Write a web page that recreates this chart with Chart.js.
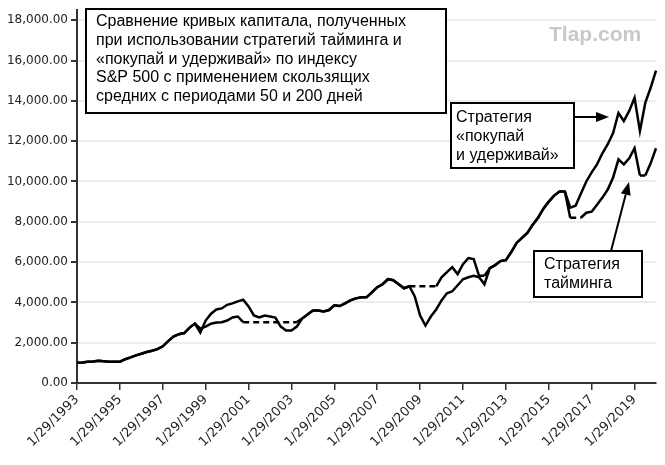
<!DOCTYPE html>
<html>
<head>
<meta charset="utf-8">
<script src="https://cdn.jsdelivr.net/npm/chart.js@4.4.1/dist/chart.umd.min.js"></script>
<style>
  body { margin: 0; background: #fff; }
  #wrap { width: 665px; height: 465px; }
</style>
</head>
<body>
<div id="wrap"><canvas id="equityChart"></canvas></div>
<script>
// quarterly dates, 1/29/1993 .. 1/29/2020
const categories = [];
for (let y = 1993; y <= 2020; y++) {
    for (const m of [1, 4, 7, 10]) {
        if (categories.length < 109) categories.push(m + '/29/' + y);
    }
}

const tickLabels = ['1/29/1993', '1/29/1995', '1/29/1997', '1/29/1999', '1/29/2001', '1/29/2003', '1/29/2005',
    '1/29/2007', '1/29/2009', '1/29/2011', '1/29/2013', '1/29/2015', '1/29/2017', '1/29/2019'];

const yTicks = [0, 2000, 4000, 6000, 8000, 10000, 12000, 14000, 16000, 18000];

// "покупай и удерживай"
const buyHold = [
    1000, 1020, 1050, 1070, 1100, 1080, 1060, 1050,
    1060, 1180, 1270, 1370, 1450, 1540, 1600, 1680,
    1820, 2080, 2300, 2420, 2480, 2750, 2950, 2500,
    3100, 3440, 3650, 3700, 3880, 3950, 4050, 4130,
    3800, 3350, 3250, 3350, 3300, 3250, 2800, 2600,
    2600, 2800, 3200, 3400, 3600, 3600, 3550, 3620,
    3850, 3820, 3950, 4100, 4200, 4250, 4250, 4500,
    4750, 4900, 5150, 5100, 4900, 4700, 4800, 4300,
    3350, 2850, 3300, 3650, 4100, 4450, 4550, 4850,
    5150, 5250, 5320, 5250, 4900, 5700, 5850, 6050,
    6100, 6500, 6950, 7200, 7450, 7850, 8200, 8650,
    9000, 9300, 9500, 9500, 8700, 8800, 9400, 10000,
    10450, 10850, 11400, 11850, 12400, 13400, 13000, 13500,
    14150, 12500, 13900, 14650, 15500
];

// тайминг по скользящим 50/200 (flat = в кэше)
const timing = [
    1000, 1020, 1050, 1070, 1100, 1080, 1060, 1050,
    1060, 1180, 1270, 1370, 1450, 1540, 1600, 1680,
    1820, 2080, 2300, 2420, 2480, 2750, 2950, 2700,
    2800, 2940, 3000, 3020, 3100, 3250, 3300, 3020,
    3020, 3020, 3020, 3020, 3020, 3020, 3020, 3020,
    3020, 3020, 3200, 3400, 3600, 3600, 3550, 3620,
    3850, 3820, 3950, 4100, 4200, 4250, 4250, 4500,
    4750, 4900, 5150, 5100, 4900, 4700, 4800, 4800,
    4800, 4800, 4800, 4800, 5240, 5500, 5750, 5400,
    5900, 6200, 6150, 5320, 5320, 5700, 5850, 6050,
    6100, 6500, 6950, 7200, 7450, 7850, 8200, 8650,
    9000, 9300, 9500, 9500, 8200, 8200, 8200, 8450,
    8500, 8850, 9200, 9600, 10200, 11100, 10850, 11150,
    11650, 10300, 10300, 10900, 11650
];

const titleLines = [
    'Сравнение кривых капитала, полученных',
    'при использовании стратегий тайминга и',
    '«покупай и удерживай» по индексу',
    'S&P 500 с применением скользящих',
    'средних с периодами 50 и 200 дней'
];
const buyHoldNote = ['Стратегия', '«покупай', 'и удерживай»'];
const timingNote = ['Стратегия', 'тайминга'];

function textBox(ctx, x, y, w, h, lines, tx, ty, lh) {
    ctx.fillStyle = '#fff';
    ctx.fillRect(x, y, w, h);
    ctx.strokeStyle = '#000';
    ctx.lineWidth = 2;
    ctx.strokeRect(x, y, w, h);
    ctx.fillStyle = '#000';
    ctx.font = '16px "Liberation Sans", Arial, sans-serif';
    ctx.textBaseline = 'middle';
    ctx.textAlign = 'left';
    lines.forEach((s, i) => ctx.fillText(s, tx, ty + i * lh));
}

function arrow(ctx, x1, y1, x2, y2) {
    const a = Math.atan2(y2 - y1, x2 - x1);
    const head = 13, half = 5;
    const bx = x2 - head * Math.cos(a), by = y2 - head * Math.sin(a);
    ctx.strokeStyle = '#000';
    ctx.lineWidth = 2;
    ctx.beginPath();
    ctx.moveTo(x1, y1);
    ctx.lineTo(bx, by);
    ctx.stroke();
    ctx.fillStyle = '#000';
    ctx.beginPath();
    ctx.moveTo(x2, y2);
    ctx.lineTo(bx + half * Math.sin(a), by - half * Math.cos(a));
    ctx.lineTo(bx - half * Math.sin(a), by + half * Math.cos(a));
    ctx.closePath();
    ctx.fill();
}

const notesPlugin = {
    id: 'notes',
    afterDraw(chart) {
        const ctx = chart.ctx;
        ctx.save();
        ctx.fillStyle = '#c9c9c9';
        ctx.font = 'bold 21px "Liberation Sans", Arial, sans-serif';
        ctx.textAlign = 'left';
        ctx.textBaseline = 'middle';
        ctx.fillText('Tlap.com', 549, 35);

        textBox(ctx, 86, 9, 360, 104, titleLines, 96, 22, 18.6);
        textBox(ctx, 451, 103, 123, 65, buyHoldNote, 456, 118, 19);
        arrow(ctx, 574, 117, 609, 117);
        textBox(ctx, 534, 251, 108, 46, timingNote, 544, 265, 18.5);
        arrow(ctx, 611, 251, 629, 182);
        ctx.restore();
    }
};

Chart.defaults.font.family = '"DejaVu Sans", sans-serif';
Chart.defaults.font.size = 12;
Chart.defaults.color = '#222';

const ctx = document.getElementById('equityChart').getContext('2d');
new Chart(ctx, {
    type: 'line',
    data: {
        labels: categories,
        datasets: [
            {
                label: 'Тайминг',
                data: timing,
                borderColor: '#000',
                borderWidth: 2.5,
                pointRadius: 0,
                tension: 0,
                segment: {
                    borderDash: c => c.p0.parsed.y === c.p1.parsed.y ? [6, 4] : undefined
                }
            },
            {
                label: 'Покупай и удерживай',
                data: buyHold,
                borderColor: '#000',
                borderWidth: 2.5,
                pointRadius: 0,
                tension: 0
            }
        ]
    },
    options: {
        responsive: true,
        maintainAspectRatio: false,
        animation: false,
        layout: { padding: { top: 8, right: 9, left: 0, bottom: 0 } },
        plugins: {
            legend: { display: false },
            tooltip: { enabled: false }
        },
        scales: {
            x: {
                type: 'category',
                afterBuildTicks: axis => {
                    axis.ticks = axis.ticks.filter(t => tickLabels.includes(categories[t.value]));
                },
                afterFit: axis => { axis.height = 82; },
                border: { color: '#333', width: 2 },
                grid: { drawOnChartArea: false, tickColor: '#333', tickLength: 7, lineWidth: 1.5 },
                ticks: { autoSkip: false, maxRotation: 45, minRotation: 45, padding: 2, color: '#222', font: { size: 13 } }
            },
            y: {
                min: 0,
                max: 18500,
                afterBuildTicks: axis => {
                    axis.ticks = yTicks.map(v => ({ value: v }));
                },
                afterFit: axis => { axis.width = 77; },
                border: { color: '#333', width: 2 },
                grid: { color: '#ececec', lineWidth: 2, tickColor: '#333', tickLength: 6 },
                ticks: {
                    padding: 3,
                    color: '#222',
                    callback: v => v.toLocaleString('en-US', { minimumFractionDigits: 2, maximumFractionDigits: 2 })
                }
            }
        }
    },
    plugins: [notesPlugin]
});
</script>
</body>
</html>
